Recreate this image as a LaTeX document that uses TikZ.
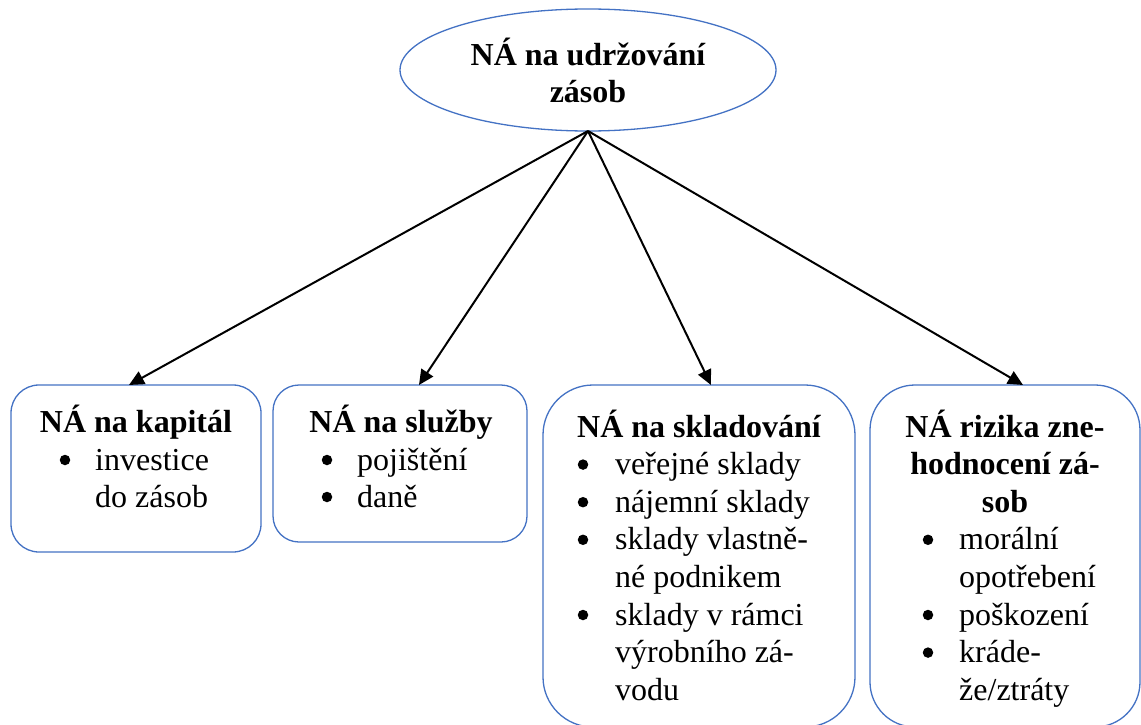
\documentclass[tikz,border=0pt]{standalone}
\usepackage{fontspec}
\setmainfont{Liberation Serif}
\usetikzlibrary{shapes.geometric,arrows.meta}
\definecolor{boxblue}{HTML}{4472C4}
\begin{document}
\begin{tikzpicture}[x=1pt,y=-1pt,
  box/.style={draw=boxblue, line width=1.3pt, rectangle, inner sep=0pt, outer sep=0pt},
  ttl/.style={font=\fontsize{32}{37.6}\selectfont\bfseries, anchor=base, inner sep=0pt},
  txt/.style={font=\fontsize{32}{37.6}\selectfont, anchor=base west, inner sep=0pt},
  bul/.style={circle, fill=black, inner sep=0pt, minimum size=10.5pt, yshift=10pt},
  conn/.style={draw=black, line width=2pt, -{Triangle[length=15pt,width=14pt]}}]
\fill[white] (0,0) rectangle (1141,725);
\useasboundingbox (0,0) rectangle (1141,725);

% top ellipse
\node[ellipse, draw=boxblue, line width=1.3pt, minimum width=376pt, minimum height=122pt,
      inner sep=0pt, outer sep=0pt, align=center,
      font=\fontsize{32}{37}\selectfont\bfseries] (top) at (588,70) {NÁ na udržování\\zásob};

% boxes
\node[box, rounded corners=28pt, minimum width=250pt, minimum height=167pt] (b1) at (136,468.5) {};
\node[box, rounded corners=26pt, minimum width=254pt, minimum height=157pt] (b2) at (400,463.5) {};
\node[box, rounded corners=50pt, minimum width=312pt, minimum height=342pt] (b3) at (699,556) {};
\node[box, rounded corners=45pt, minimum width=270pt, minimum height=342pt] (b4) at (1005,556) {};

% connectors
\draw[conn] (top.south) -- ([xshift=-7pt]b1.north);
\draw[conn] (top.south) -- ([xshift=19pt]b2.north);
\draw[conn] (top.south) -- ([xshift=12pt]b3.north);
\draw[conn] (top.south) -- ([xshift=18pt]b4.north);

% box 1
\node[ttl] (h1) at (136,432) {NÁ na kapitál};
\node[bul] (p1a) at (65,470) {};
\node[txt] (t1a) at (95,470) {investice};
\node[txt] (t1b) at (95,507) {do zásob};

% box 2
\node[ttl] (h2) at (401,432) {NÁ na služby};
\node[bul] (p2a) at (327,470) {};
\node[txt] (t2a) at (357,470) {pojištění};
\node[bul] (p2b) at (327,507) {};
\node[txt] (t2b) at (357,507) {daně};

% box 3
\node[ttl] (h3) at (699,437) {NÁ na skladování};
\node[bul] (p3a) at (583,474.6) {};
\node[txt] (t3a) at (615,474.6) {veřejné sklady};
\node[bul] (p3b) at (583,512.2) {};
\node[txt] (t3b) at (615,512.2) {nájemní sklady};
\node[bul] (p3c) at (583,549.8) {};
\node[txt] (t3c) at (615,549.8) {sklady vlastně-};
\node[txt] (t3d) at (615,587.4) {né podnikem};
\node[bul] (p3e) at (583,625) {};
\node[txt] (t3e) at (615,625) {sklady v rámci};
\node[txt] (t3f) at (615,662.6) {výrobního zá-};
\node[txt] (t3g) at (615,700.2) {vodu};

% box 4
\node[ttl] (h4a) at (1005,437) {NÁ rizika zne-};
\node[ttl] (h4b) at (1005,474.6) {hodnocení zá-};
\node[ttl] (h4c) at (1005,512.2) {sob};
\node[bul] (p4a) at (928,549.8) {};
\node[txt] (t4a) at (959,549.8) {morální};
\node[txt] (t4b) at (959,587.4) {opotřebení};
\node[bul] (p4c) at (928,625) {};
\node[txt] (t4c) at (959,625) {poškození};
\node[bul] (p4d) at (928,662.6) {};
\node[txt] (t4d) at (959,662.6) {kráde-};
\node[txt] (t4e) at (959,700.2) {že/ztráty};
\end{tikzpicture}
\end{document}
